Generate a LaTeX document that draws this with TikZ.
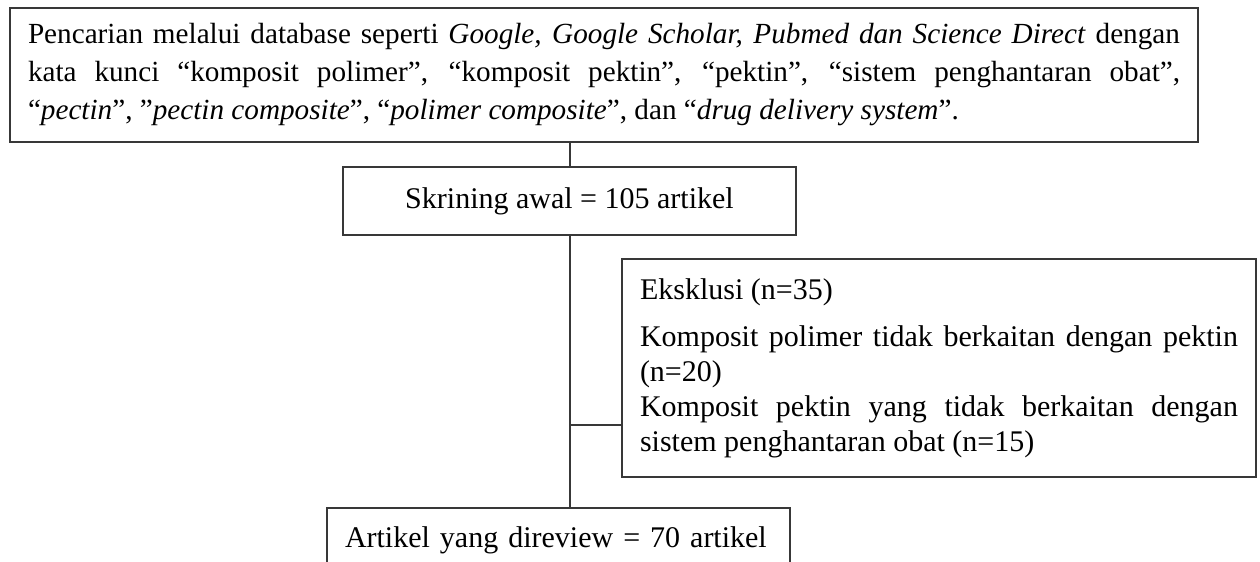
\documentclass[tikz,border=0pt]{standalone}
\usepackage{fontspec}
\setmainfont{Liberation Serif}
\usetikzlibrary{positioning}
\definecolor{lineGray}{gray}{0.22}
\tikzset{
    box/.style={draw=lineGray, line width=1pt, fill=white, inner ysep=0pt,
                font=\fontsize{15pt}{17.5pt}\selectfont},
    link/.style={draw=lineGray, line width=1pt}
}

\begin{document}
\begin{tikzpicture}[x=0.5pt,y=-0.5pt]
\path[use as bounding box, clip] (0,0) rectangle (1260,562);
\node[box, font=\fontsize{14.6pt}{19pt}\selectfont, text width=576pt, inner xsep=9pt, minimum height=67pt,
      align=justify] (search) at (604,75)
    {Pencarian melalui database seperti \textit{Google, Google Scholar, Pubmed dan Science Direct} dengan\linebreak
     kata kunci “komposit polimer”, “komposit pektin”, “pektin”, “sistem penghantaran obat”,\linebreak
     “\textit{pectin}”, ”\textit{pectin composite}”, “\textit{polimer composite}”, dan “\textit{drug delivery system}”.};
\node[box, minimum width=226.5pt, minimum height=34pt] (screen) at (569.5,201) {Skrining awal = 105 artikel};
\node[box, text width=299pt, inner xsep=9pt, minimum height=109pt, align=justify] (exclude) at (939,368)
    {Eksklusi (n=35)\\[6pt]
     Komposit polimer tidak berkaitan dengan pektin\linebreak (n=20)\\
     Komposit pektin yang tidak berkaitan dengan\linebreak sistem penghantaran obat (n=15)};
\node[box, text width=213.5pt, inner xsep=9pt, minimum height=32pt, align=left] (review) at (558.5,540)
    {Artikel yang direview = 70 artikel};
\coordinate (branch) at (screen.south |- 0,425);
% connectors
\draw[link] (screen.north) -- (screen.north |- search.south);
\draw[link] (screen.south) -- (screen.south |- review.north);
\draw[link] (branch) -- (branch -| exclude.west);
\end{tikzpicture}
\end{document}
